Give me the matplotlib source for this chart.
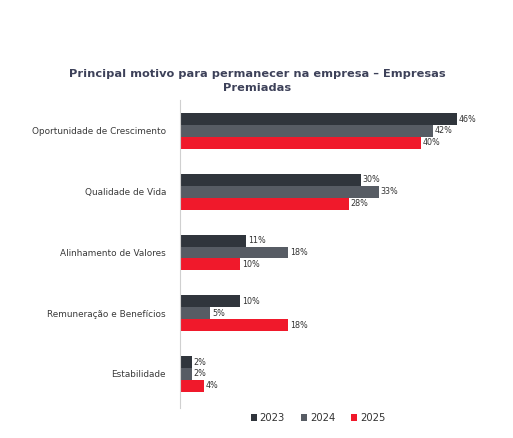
import matplotlib
matplotlib.use("Agg")
import matplotlib.pyplot as plt
import numpy as np

categories = ["Oportunidade de Crescimento", "Qualidade de Vida", "Alinhamento de Valores",
              "Remuneração e Benefícios", "Estabilidade"]
years = ["2023", "2024", "2025"]
v2023 = [46, 30, 11, 10, 2]
v2024 = [42, 33, 18, 5, 2]
v2025 = [40, 28, 10, 18, 4]
colors = ["#30353c", "#575c64", "#f0192b"]

plt.rcParams['font.family'] = ['DejaVu Sans']

fig = plt.figure(figsize=(5.13, 4.38), dpi=100)
ax = fig.add_axes([180/513, 1-408/438, (481-180)/513, (408-100)/438])

y = np.arange(len(categories))
h = 0.195
series = [v2023, v2024, v2025]
for i, (vals, c, yr) in enumerate(zip(series, colors, years)):
    pos = y + (i - 1) * h
    bars = ax.barh(pos, vals, height=h, color=c, label=yr)
    for b, v in zip(bars, vals):
        ax.text(b.get_width() + 0.3, b.get_y() + b.get_height() / 2, f"{v}%",
                va="center", ha="left", fontsize=5.8, color="#333333")

ax.set_ylim(len(categories) - 1 + 0.56, -0.51)
ax.set_xlim(0, 50)
ax.set_yticks(y)
ax.set_yticklabels(categories, fontsize=6.4, color="#3a3a3a")
ax.tick_params(axis="y", length=0, pad=10)
ax.set_xticks([])
for s in ["top", "right", "bottom"]:
    ax.spines[s].set_visible(False)
ax.spines["left"].set_color("#d0d0d0")
ax.spines["left"].set_linewidth(0.8)

fig.text(257/513, 1-74/438, "Principal motivo para permanecer na empresa – Empresas",
         ha="center", va="center", fontsize=8.2, fontweight="bold", color="#3d4159")
fig.text(257/513, 1-88/438, "Premiadas",
         ha="center", va="center", fontsize=8.2, fontweight="bold", color="#3d4159")

leg = fig.legend(loc="center", bbox_to_anchor=(318/513, 1-418/438), ncol=3, frameon=False,
                 fontsize=7.2, handlelength=0.6, handleheight=0.6, handletextpad=0.3,
                 columnspacing=1.6)
for t in leg.get_texts():
    t.set_color("#333333")

fig.savefig("out.png", dpi=100)
